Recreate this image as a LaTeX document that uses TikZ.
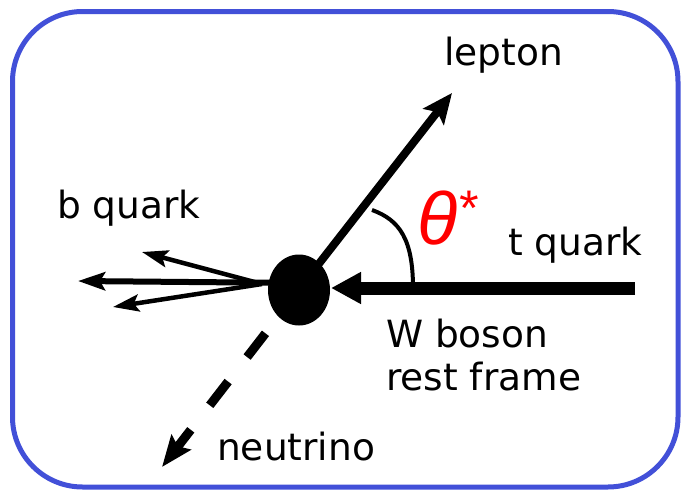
\documentclass[tikz,border=0pt]{standalone}
\usepackage{fontspec}
\setmainfont{DejaVu Sans}
\newfontfamily\thetafont{Liberation Sans}
\usetikzlibrary{arrows.meta,shapes.geometric}
\definecolor{frameblue}{RGB}{66,80,216}
\definecolor{thred}{RGB}{255,0,0}
\begin{document}
\begin{tikzpicture}[x=1pt,y=-1pt,
  lbl/.style={font=\fontsize{37.5}{43}\selectfont, inner sep=0pt, anchor=base west},
  frame/.style={draw=frameblue, line width=5pt, rounded corners=70pt},
  tline/.style={line width=13pt, -{Triangle[length=30pt,width=30pt]}},
  lepline/.style={line width=8pt, -{Stealth[length=30pt,width=26pt,inset=6pt]}},
  bmain/.style={line width=6pt, -{Stealth[length=27pt,width=18pt,inset=5pt]}},
  bside/.style={line width=4.5pt, -{Stealth[length=26pt,width=17pt,inset=5pt]}},
  nuline/.style={line width=9pt, dash pattern=on 30pt off 31pt, dash phase=40pt,
     -{Stealth[length=31pt,width=24pt,inset=5pt]}},
  anglearc/.style={line width=4pt}
]
\useasboundingbox (0,0) rectangle (681,490);
\draw[frame] (12.5,11.5) rectangle (678,487);

% free ends
\coordinate (tq) at (635,288);
\coordinate (lep) at (452,93);
\coordinate (bq1) at (78,281);
\coordinate (bq2) at (142,252);
\coordinate (bq3) at (113,307);
\coordinate (bqs) at (262,284);
\coordinate (nu) at (162,467);
\coordinate (arcA) at (372,210);
\coordinate (arcB) at (413,288);

% lines
\draw[lepline] (300,288) -- (lep);
\draw[bmain] (300,283) -- (bq1);
\draw[bside] (bqs) -- (bq2);
\draw[bside] (bqs) -- (bq3);

\node[ellipse, fill=black, minimum width=62pt, minimum height=71pt, inner sep=0pt] (blob) at (299,290) {};

\draw[tline] (tq) -- (331,288);
\draw[nuline] (blob) -- (nu);
\draw[anglearc] (arcA) .. controls (400,220) and (413,240) .. (arcB);

% labels
\node[lbl] (leptonlbl) at (444,65) {lepton};
\node[lbl] (bquarklbl) at (57,218) {b quark};
\node[lbl] (tquarklbl) at (508,255) {t quark};
\node[lbl] (wbosonlbl) at (386,347) {W boson};
\node[lbl] (restlbl) at (386,390) {rest frame};
\node[lbl] (nulbl) at (217,460) {neutrino};
\node[inner sep=0pt, anchor=base west, text=thred, font=\thetafont\itshape\fontsize{74}{76}\selectfont] (theta) at (417,244) {θ\raisebox{19pt}{\fontsize{50}{52}\selectfont *}};
\end{tikzpicture}
\end{document}
